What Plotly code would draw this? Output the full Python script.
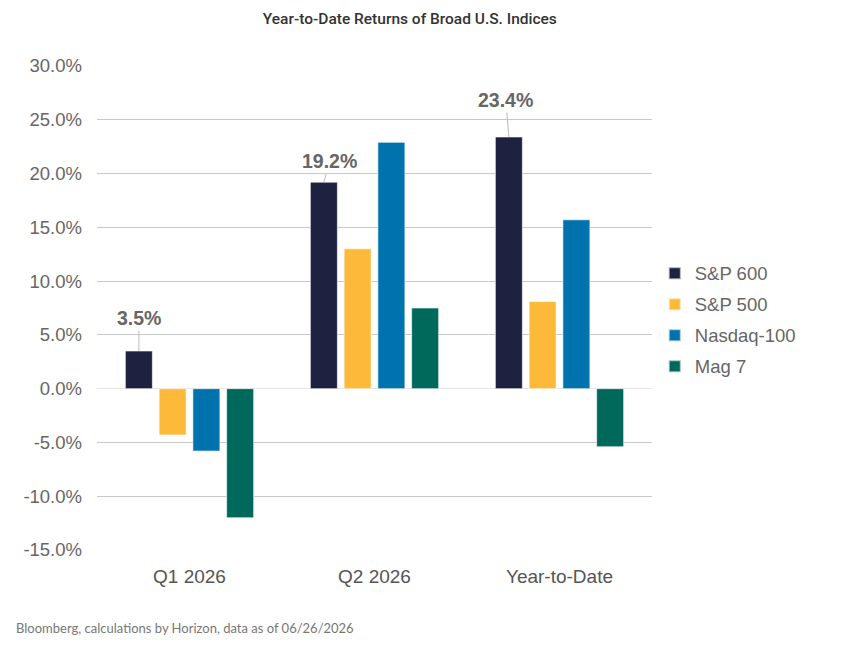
import plotly.graph_objects as go

categories = ["Q1 2026", "Q2 2026", "Year-to-Date"]
series_names = ["S&P 600", "S&P 500", "Nasdaq-100", "Mag 7"]
sp600 = [3.5, 19.2, 23.4]
sp500 = [-4.3, 13.0, 8.1]
nasdaq100 = [-5.8, 22.9, 15.7]
mag7 = [-12.0, 7.5, -5.4]
colors = ["#1E2240", "#FDBA3A", "#0073AF", "#00695C"]
tick_vals = [-15, -10, -5, 0, 5, 10, 15, 20, 25, 30]
tick_text = [f"{v:.1f}%" for v in tick_vals]

series = [sp600, sp500, nasdaq100, mag7]
bargap = 0.27

fig = go.Figure()
for k, (name, vals, col) in enumerate(zip(series_names, series, colors)):
    fig.add_trace(go.Bar(
        x=categories, y=vals, name=name, legendgroup=f"g{k}",
        marker=dict(color=col, line=dict(color="rgba(255,255,255,0.6)", width=1)),
        hoverinfo="skip",
    ))

# labels for the S&P 600 bars with leader lines
slot = (1 - bargap) / len(series)
offset = -1.5 * slot
label_offsets = [(0, -33), (6, -21), (-3, -37)]
for i, (v, (ax, ay)) in enumerate(zip(sp600, label_offsets)):
    fig.add_annotation(
        x=i + offset, y=v, xref="x", yref="y",
        text=f"<b>{v:.1f}%</b>", showarrow=True, arrowhead=0, arrowwidth=1,
        arrowcolor="#BBBBBB", ax=ax, ay=ay, standoff=0,
        font=dict(family="Liberation Sans, Arial", size=19.5, color="#666666"),
    )

fig.update_layout(
    width=861, height=648,
    margin=dict(l=97, r=209, t=66, b=98),
    paper_bgcolor="white", plot_bgcolor="white",
    barmode="group", bargap=bargap, bargroupgap=0.2,
    title=dict(text="Year-to-Date Returns of Broad U.S. Indices", x=0.476, xanchor="center",
               y=0.972, yanchor="middle",
               font=dict(family="Roboto", size=15.5, color="#333333", weight=500)),
    font=dict(family="Liberation Sans, Arial", size=18.5, color="#666666"),
    legend=dict(x=1.005, xanchor="left", y=0.475, yanchor="middle",
                font=dict(size=18.5, color="#666666"), tracegroupgap=4, itemsizing="constant",
                itemwidth=30),
    showlegend=True,
)
fig.update_yaxes(range=[-15, 30], tickvals=tick_vals, ticktext=tick_text,
                 showgrid=True, gridcolor="#C8C8C8", gridwidth=1,
                 zeroline=True, zerolinecolor="#E6E6E6", zerolinewidth=1,
                 showline=False, ticks="", ticklabelstandoff=14,
                 tickfont=dict(size=18.5, color="#666666"))
fig.update_xaxes(showgrid=False, showline=False, ticks="",
                 tickfont=dict(size=19, color="#555555"), ticklabelstandoff=13)

fig.add_annotation(text="Bloomberg, calculations by Horizon, data as of 06/26/2026",
                   xref="paper", yref="paper", x=-83/555, y=-78/484, xanchor="left",
                   yanchor="middle", showarrow=False,
                   font=dict(family="Lato", size=13, color="#777777"))

fig.write_html("out.html")
